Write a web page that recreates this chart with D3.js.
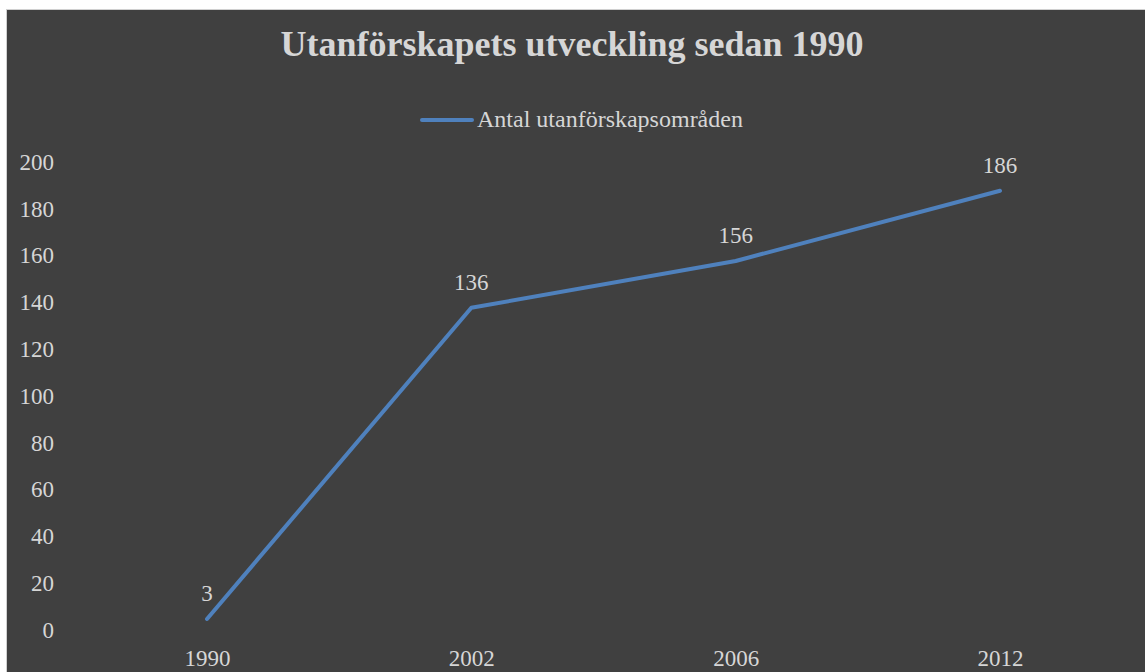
<!DOCTYPE html>
<html>
<head>
<meta charset="utf-8">
<script src="https://cdn.jsdelivr.net/npm/d3@7"></script>
<style>
  html, body { margin: 0; padding: 0; background: #ffffff; }
  svg { display: block; }
  text { font-family: "Liberation Serif", "Times New Roman", serif; }
</style>
</head>
<body>
<div id="chart"></div>
<script>
const years = ["1990", "2002", "2006", "2012"];
const counts = [3, 136, 156, 186];
const yTicks = [0, 20, 40, 60, 80, 100, 120, 140, 160, 180, 200];
const seriesName = "Antal utanförskapsområden";
const title = "Utanförskapets utveckling sedan 1990";

const width = 1145;
const height = 672;
const textColor = "#d6d6d6";
const lineColor = "#4f81bd";

const svg = d3.select("#chart").append("svg")
  .attr("width", width)
  .attr("height", height);

// panel with thin light frame
svg.append("rect")
  .attr("x", 6.5).attr("y", 9.5)
  .attr("width", width).attr("height", height)
  .attr("fill", "#404040")
  .attr("stroke", "#d0d0d0")
  .attr("stroke-width", 1);

const x = d3.scalePoint()
  .domain(years)
  .range([207, 1000]);

const y = d3.scaleLinear()
  .domain([0, 200])
  .range([626, 158]);

svg.append("text")
  .attr("x", 572)
  .attr("y", 56)
  .attr("text-anchor", "middle")
  .attr("font-size", 36)
  .attr("font-weight", "bold")
  .attr("fill", textColor)
  .text(title);

// legend
const legend = svg.append("g");
legend.append("line")
  .attr("x1", 422).attr("x2", 472)
  .attr("y1", 120).attr("y2", 120)
  .attr("stroke", lineColor)
  .attr("stroke-width", 4)
  .attr("stroke-linecap", "round");
legend.append("text")
  .attr("x", 477)
  .attr("y", 127)
  .attr("font-size", 24)
  .attr("fill", textColor)
  .text(seriesName);

// y axis labels (no axis line, no gridlines)
const yAxis = svg.append("g")
  .attr("transform", "translate(54,0)")
  .call(d3.axisLeft(y).tickValues(yTicks).tickSize(0).tickPadding(0));
yAxis.select(".domain").remove();
yAxis.selectAll("text")
  .attr("font-size", 23)
  .attr("fill", textColor)
  .attr("dy", "0.32em")
  .attr("transform", "translate(0,4)");

const xAxis = svg.append("g")
  .attr("transform", "translate(0,650)")
  .call(d3.axisBottom(x).tickSize(0).tickPadding(0));
xAxis.select(".domain").remove();
xAxis.selectAll("text")
  .attr("font-size", 23)
  .attr("fill", textColor)
  .attr("dy", "0.71em");

const pts = years.map((yr, i) => ({ yr: yr, v: counts[i] }));

svg.append("path")
  .datum(pts)
  .attr("fill", "none")
  .attr("stroke", lineColor)
  .attr("stroke-width", 4)
  .attr("stroke-linecap", "round")
  .attr("stroke-linejoin", "round")
  .attr("d", d3.line().x(d => x(d.yr)).y(d => y(d.v)));

svg.append("g")
  .selectAll("text")
  .data(pts)
  .join("text")
  .attr("x", d => x(d.yr))
  .attr("y", d => y(d.v) - 18)
  .attr("text-anchor", "middle")
  .attr("font-size", 23)
  .attr("fill", textColor)
  .text(d => d.v);
</script>
</body>
</html>
